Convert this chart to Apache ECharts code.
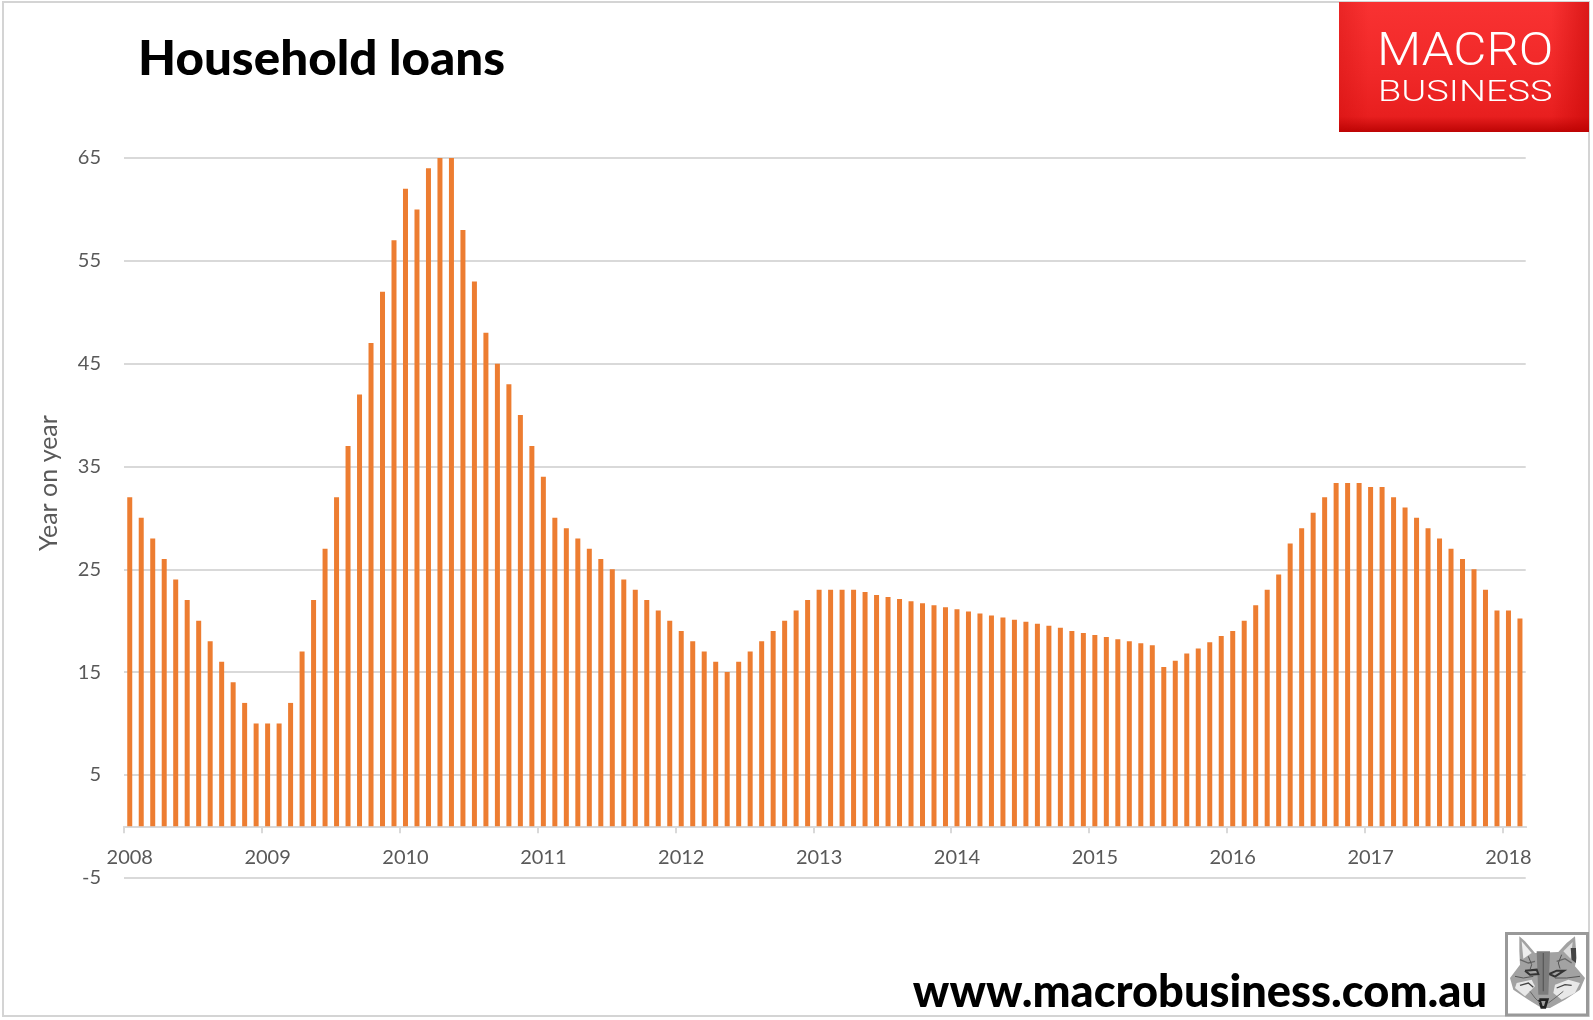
<!DOCTYPE html>
<html>
<head>
<meta charset="utf-8">
<style>html,body{margin:0;padding:0;background:#fff}#c{width:1593px;height:1020px}</style>
<script src="https://cdn.jsdelivr.net/npm/echarts@6/dist/echarts.min.js"></script>
</head>
<body>
<div id="c"></div>
<script>
const titleText = "Household loans";
const footerText = "www.macrobusiness.com.au";
const yAxisName = "Year on year";
const yTicks = [-5, 5, 15, 25, 35, 45, 55, 65];
const startYear = 2008;
const values2008 = [32, 30, 28, 26, 24, 22, 20, 18, 16, 14, 12, 10];
const values2009 = [10, 10, 12, 17, 22, 27, 32, 37, 42, 47, 52, 57];
const values2010 = [62, 60, 64, 65, 65, 58, 53, 48, 45, 43, 40, 37];
const values2011 = [34, 30, 29, 28, 27, 26, 25, 24, 23, 22, 21, 20];
const values2012 = [19, 18, 17, 16, 15, 16, 17, 18, 19, 20, 21, 22];
const values2013 = [23, 23, 23, 23, 22.8, 22.5, 22.3, 22.1, 21.9, 21.7, 21.5, 21.3];
const values2014 = [21.1, 20.9, 20.7, 20.5, 20.3, 20.1, 19.9, 19.7, 19.5, 19.3, 19, 18.8];
const values2015 = [18.6, 18.4, 18.2, 18, 17.8, 17.6, 15.5, 16.1, 16.8, 17.3, 17.9, 18.5];
const values2016 = [19, 20, 21.5, 23, 24.5, 27.5, 29, 30.5, 32, 33.4, 33.4, 33.4];
const values2017 = [33, 33, 32, 31, 30, 29, 28, 27, 26, 25, 23, 21];
const values2018 = [21, 20.2];

const yearly = [values2008, values2009, values2010, values2011, values2012, values2013,
  values2014, values2015, values2016, values2017, values2018];
const values = yearly.flat();
const categories = [];
yearly.forEach((arr, y) => arr.forEach((_, m) =>
  categories.push((startYear + y) + "-" + String(m + 1).padStart(2, "0"))));

const GREY = "#d9d9d9", TEXT = "#595959", FONT = "Lato, Carlito, sans-serif";

function poly(points, fill) {
  return {type: "polygon", z: 6, shape: {points}, style: {fill}};
}
function fur(points, stroke, lineWidth) {
  return {type: "polyline", z: 7, shape: {points}, style: {stroke, lineWidth, fill: "none"}};
}
const foxShapes = [
  poly([[58,25],[75,40],[105,75],[175,72],[200,45],[225,25],[230,90],[225,115],[255,150],[240,185],[195,215],[150,240],[125,240],[85,215],[40,185],[30,150],[60,110],[58,70]], "#a2a2a2"),
  poly([[65,40],[95,75],[70,92]], "#eeeeee"),
  poly([[218,42],[190,70],[212,92]], "#dddddd"),
  poly([[212,60],[228,60],[228,105],[215,95]], "#444444"),
  poly([[110,70],[150,70],[145,200],[115,200]], "#7c7c7c"),
  poly([[50,165],[95,155],[105,175],[75,205],[45,180]], "#e8e8e8"),
  poly([[165,170],[205,155],[240,165],[225,195],[185,215],[160,195]], "#e8e8e8"),
  fur([[75,128],[110,125],[115,138],[90,140],[75,128]], "#333333", 6),
  fur([[148,138],[170,128],[192,128],[165,146],[148,138]], "#333333", 6),
  fur([[118,215],[142,215],[135,238],[125,238],[118,215]], "#222222", 8),
  fur([[60,95],[85,105],[105,100]], "#666666", 4),
  fur([[170,100],[195,92],[215,105]], "#666666", 4),
  fur([[45,145],[70,150],[100,145]], "#555555", 3),
  fur([[165,150],[200,150],[240,145]], "#555555", 3),
  fur([[60,172],[85,165],[100,178]], "#444444", 4),
  fur([[170,180],[195,170],[215,172]], "#444444", 4),
  fur([[85,85],[95,110],[90,125]], "#555555", 3),
  fur([[185,80],[175,105],[180,122]], "#555555", 3),
  fur([[130,75],[130,190]], "#5a5a5a", 4),
  fur([[90,190],[105,210],[120,225]], "#666666", 3),
  fur([[190,190],[165,210],[145,225]], "#666666", 3)
];

const chart = echarts.init(document.getElementById("c"), null, {renderer: "canvas"});
chart.setOption({
  animation: false,
  backgroundColor: "#fff",
  grid: {left: 124, right: 67.3, top: 158, bottom: 142.3, containLabel: false},
  xAxis: {
    type: "category",
    data: categories,
    axisLine: {onZero: true, lineStyle: {color: GREY, width: 2}},
    axisTick: {show: true, interval: 11, length: 7, lineStyle: {color: GREY, width: 2}},
    axisLabel: {
      interval: 11, margin: -30, color: TEXT, fontFamily: FONT, fontSize: 20,
      formatter: v => v.slice(0, 4)
    },
    splitLine: {show: false}
  },
  yAxis: {
    type: "value", min: -5, max: 65,
    axisLine: {show: false},
    axisTick: {show: false, customValues: yTicks},
    axisLabel: {margin: 23, color: TEXT, fontFamily: FONT, fontSize: 20, customValues: yTicks},
    splitLine: {show: true, lineStyle: {color: GREY, width: 2}}
  },
  series: [{
    type: "bar", data: values, barWidth: 5,
    itemStyle: {color: "#ed7d31"}
  }],
  graphic: {elements: [
    {type: "rect", z: 0, shape: {x: 3, y: 2, width: 1586, height: 1014},
      style: {fill: "none", stroke: "#d4d4d4", lineWidth: 2}},
    {type: "rect", z: 5, shape: {x: 1522, y: 828, width: 6, height: 9}, style: {fill: "#fff"}},
    {type: "text", z: 5, x: 138, y: 59.5, scaleX: 1.05, style: {text: titleText, font: "900 47px " + FONT, fill: "#000", verticalAlign: "middle"}},
    {type: "text", z: 5, x: 49, y: 483, rotation: Math.PI / 2,
      style: {text: yAxisName, font: "25px " + FONT, fill: TEXT, align: "center", verticalAlign: "middle"}},
    {type: "text", z: 5, x: 1487, y: 992, style: {text: footerText, font: "900 45.2px " + FONT, fill: "#000", align: "right", verticalAlign: "middle"}},
    {type: "rect", z: 4, shape: {x: 1339, y: 2, width: 250, height: 130},
      style: {fill: new echarts.graphic.LinearGradient(0, 0, 0, 1, [
        {offset: 0, color: "#f93232"}, {offset: 0.55, color: "#f02828"}, {offset: 0.88, color: "#e81f1f"}, {offset: 1, color: "#bd0404"}
      ])}},
    {type: "rect", z: 4, shape: {x: 1339, y: 2, width: 250, height: 130},
      style: {fill: new echarts.graphic.LinearGradient(0, 0, 1, 0, [
        {offset: 0, color: "rgba(190,0,0,0.25)"}, {offset: 0.12, color: "rgba(190,0,0,0)"}, {offset: 0.85, color: "rgba(190,0,0,0)"}, {offset: 1, color: "rgba(190,0,0,0.5)"}
      ])}},
    {type: "text", z: 5, x: 1377, y: 53, scaleX: 1.11, style: {text: "MACRO", font: "300 46px Roboto, sans-serif", fill: "#fff", verticalAlign: "middle"}},
    {type: "text", z: 5, x: 1378, y: 93.5, scaleX: 1.31, style: {text: "BUSINESS", font: "300 29px Roboto, sans-serif", fill: "#fff", verticalAlign: "middle"}},
    {type: "rect", z: 4, shape: {x: 1506.5, y: 933.5, width: 81, height: 81.5},
      style: {fill: "#fff", stroke: "#999", lineWidth: 3}},
    {type: "group", z: 6, x: 1500, y: 928, scaleX: 1 / 3, scaleY: 1 / 3, children: foxShapes}
  ]}
});
</script>
</body>
</html>
